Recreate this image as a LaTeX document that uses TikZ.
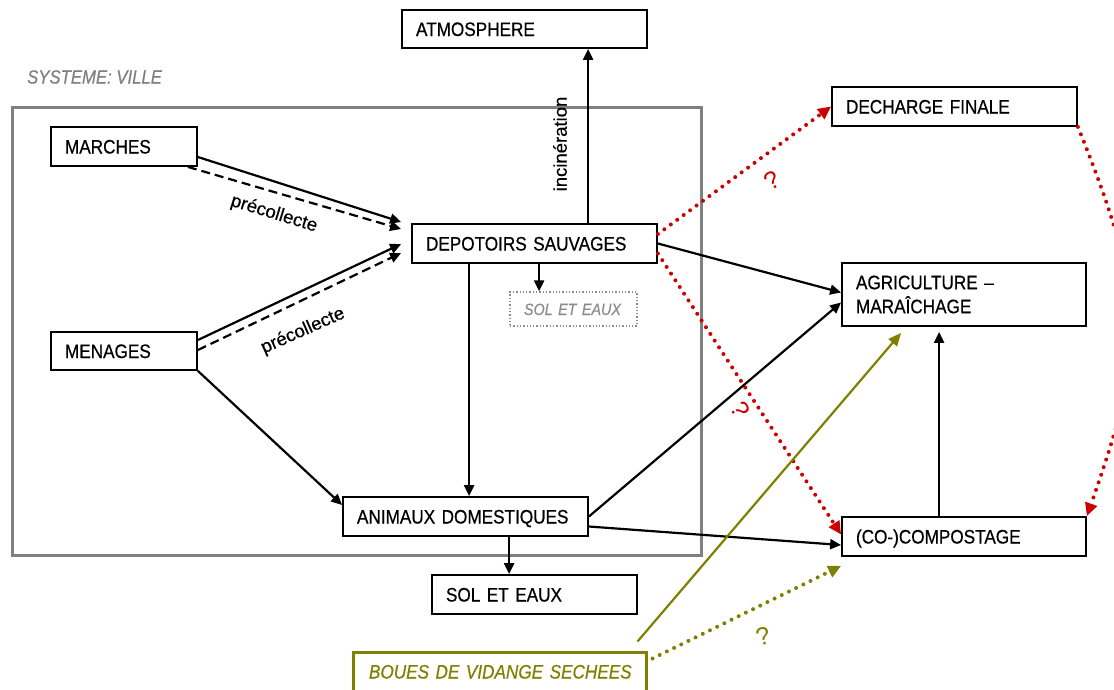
\documentclass[tikz,border=0pt]{standalone}
\usepackage{fontspec}
\setmainfont{Liberation Sans}
\newfontfamily\narrowfont[FakeStretch=0.88,FakeBold=0.6]{Liberation Sans}
\newfontfamily\labelfont[FakeBold=0.4]{Liberation Sans}
\usetikzlibrary{arrows.meta,calc}

\definecolor{frameGray}{RGB}{128,128,128}
\definecolor{softGray}{RGB}{140,140,140}
\definecolor{dotRed}{RGB}{204,0,0}
\definecolor{mudOlive}{RGB}{128,128,0}

\begin{document}
\begin{tikzpicture}[x=1pt,y=-1pt,
  box/.style={draw, rectangle, line width=1.8pt, inner xsep=14pt, inner ysep=0pt,
    align=left, minimum height=39pt, text height=14pt, text depth=0pt,
    font=\narrowfont\fontsize{19.5}{24}\selectfont},
  twoline/.style={draw, rectangle, line width=1.8pt, inner xsep=14pt, inner ysep=0pt,
    align=left, font=\narrowfont\fontsize{19.5}{24}\selectfont},
  ghostbox/.style={draw=softGray, dotted, rectangle, line width=1.3pt, inner xsep=14pt,
    inner ysep=0pt, align=left, text=softGray, text height=12pt, text depth=0pt,
    font=\narrowfont\itshape\fontsize{16.3}{20}\selectfont},
  sludgebox/.style={draw=mudOlive, rectangle, line width=3pt, inner xsep=16pt,
    inner ysep=0pt, align=left, text=mudOlive, minimum height=39pt,
    text height=14pt, text depth=0pt,
    font=\narrowfont\itshape\fontsize{19.5}{24}\selectfont},
  cityframe/.style={draw=frameGray, rectangle, line width=3pt, inner sep=0pt},
  arr/.style={line width=2.2pt, -{Triangle[length=11pt,width=10pt]}},
  dasharr/.style={arr, dash pattern=on 9pt off 5pt},
  redflow/.style={dotRed, line width=4pt, line cap=round, dash pattern=on 0pt off 8pt,
    -{Triangle[length=13pt,width=12pt]}},
  oliveflow/.style={mudOlive, line width=2.2pt, -{Triangle[length=13pt,width=11pt]}},
  olivedots/.style={mudOlive, line width=4pt, line cap=round, dash pattern=on 0pt off 8pt,
    -{Triangle[length=13pt,width=12pt]}},
  flowlabel/.style={font=\labelfont\fontsize{18.5}{20}\selectfont, inner sep=0pt},
  query/.style={font=\fontsize{25}{27}\selectfont, inner sep=0pt}
]
\useasboundingbox (0,0) rectangle (1114,689);

% city system frame and its title
\node[cityframe, minimum width=689pt, minimum height=448pt] (ville) at (356.5,331) {};
\node[anchor=west, inner sep=0pt, text=frameGray,
  font=\narrowfont\itshape\fontsize{19}{22}\selectfont] (villetitle) at (27,77) {SYSTEME: VILLE};

% boxes
\node[box, text width=217pt, minimum height=38pt] (atm) at (524.5,29) {ATMOSPHERE};
\node[box, text width=118pt] (marches) at (124,146.5) {MARCHES};
\node[box, text width=118pt, minimum height=38pt] (menages) at (124,351) {MENAGES};
\node[box, text width=217pt] (depot) at (534.5,243.5) {DEPOTOIRS SAUVAGES};
\node[ghostbox, text width=99pt, minimum height=34pt] (solA) at (573.5,309) {SOL ET EAUX};
\node[box, text width=217pt] (decharge) at (954.5,106.5) {DECHARGE FINALE};
\node[twoline, text width=216pt, minimum height=63pt] (agri) at (964,294.5) {AGRICULTURE –\\MARAÎCHAGE};
\node[box, text width=217pt] (anim) at (465.5,516.5) {ANIMAUX DOMESTIQUES};
\node[box, text width=216pt] (compost) at (964,536.5) {(CO-)COMPOSTAGE};
\node[box, text width=177pt] (solB) at (534.5,594.5) {SOL ET EAUX};
\node[sludgebox, text width=261pt] (boues) at (499.5,671.5) {\mbox{BOUES DE VIDANGE SECHEES}};

% collection flows towards the dumps
\draw[arr] ($(marches.east)+(0,10.5)$) -- ($(depot.west)+(-10,-21.5)$);
\draw[dasharr] ($(marches.south east)+(-10,0)$) -- ($(depot.west)+(-10,-14.5)$);
\draw[arr] ($(menages.east)+(0,-11)$) -- ($(depot.west)+(-10,0.5)$);
\draw[dasharr] ($(menages.east)+(0,-1)$) -- ($(depot.west)+(-10,9.5)$);
\node[flowlabel, rotate=-17] (pc1) at (274,214) {précollecte};
\node[flowlabel, rotate=24] (pc2) at (303,331) {précollecte};

\draw[arr] (menages.south east) -- ($(anim.west)+(0,-11.5)$);

% vertical flows
\coordinate (dA) at ($(depot.south west)+(58,0)$);
\draw[arr] (dA) -- (dA |- anim.north);
\coordinate (dS) at ($(depot.south west)+(128,0)$);
\draw[arr] (dS) -- (dS |- solA.north);
\coordinate (dT) at ($(depot.north west)+(177,0)$);
\draw[arr] (dT) -- (dT |- atm.south);
\node[flowlabel, rotate=90] (incin) at (560,144) {incinération};
\coordinate (aS) at ($(anim.south west)+(167,0)$);
\draw[arr] (aS) -- (aS |- solB.north);
\coordinate (cA) at ($(compost.north west)+(98,0)$);
\draw[arr, shorten >=5pt] (cA) -- (cA |- agri.south);

% flows to agriculture and composting
\draw[arr] (depot.east) -- ($(agri.west)+(0,-2)$);
\draw[arr] (anim.east) -- ($(agri.west)+(0,8)$);
\draw[arr] ($(anim.east)+(0,10)$) -- ($(compost.west)+(0,8.5)$);

% uncertain flows
\draw[redflow] ($(depot.east)+(0,-9.5)$) -- (decharge.west);
\node[query, text=dotRed, rotate=30] (q1) at (772,180) {?};
\draw[redflow] ($(depot.east)+(0,10)$) -- ($(compost.west)+(0,-2)$);
\node[query, text=dotRed, rotate=-62] (q2) at (740,410) {?};
\draw[redflow] (decharge.south east) .. controls +(72,178) and +(58,-166) .. (compost.north east);
\node[query, text=dotRed, rotate=-60] (q4) at (1124,172) {?};

% dried sludge
\draw[oliveflow] ($(boues.north east)+(-10,-9)$) -- ($(agri.south west)+(60,6)$);
\draw[olivedots] ($(boues.north east)+(5,8)$) -- ($(compost.south west)+(0,9)$);
\node[query, text=mudOlive, rotate=15] (q3) at (763,636) {?};
\end{tikzpicture}
\end{document}
